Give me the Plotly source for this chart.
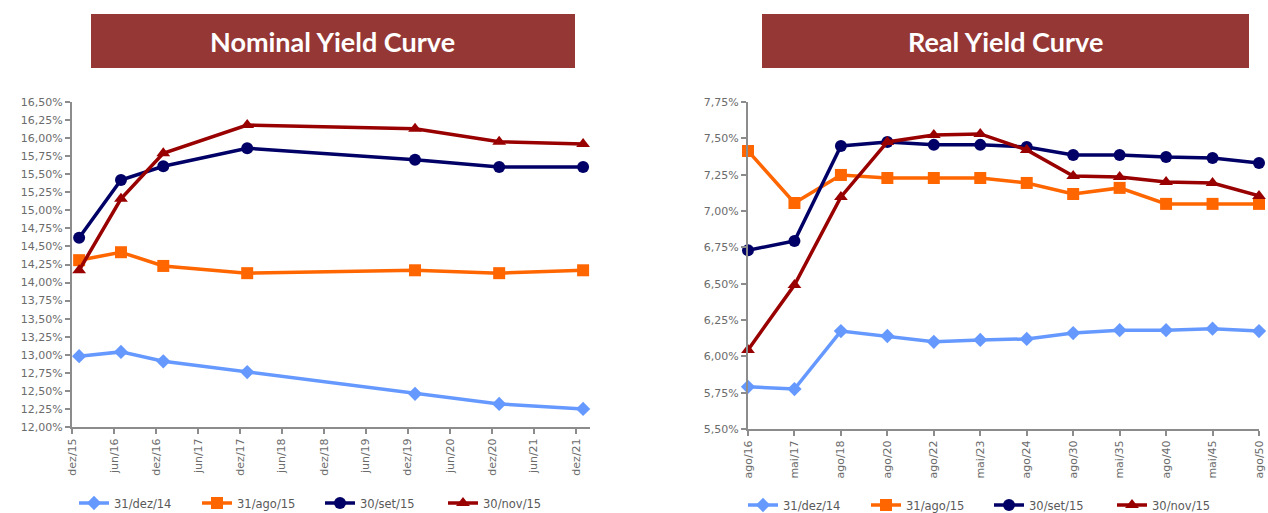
import plotly.graph_objects as go

# ---------------- data ----------------
SERIES = ["31/dez/14", "31/ago/15", "30/set/15", "30/nov/15"]

nom_dates = ["2016-01-01", "2016-07-01", "2017-01-01", "2018-01-01",
             "2020-01-01", "2021-01-01", "2022-01-01"]
nom_dez14 = [12.98, 13.04, 12.91, 12.76, 12.46, 12.32, 12.25]
nom_ago15 = [14.31, 14.42, 14.23, 14.13, 14.17, 14.13, 14.17]
nom_set15 = [14.62, 15.42, 15.61, 15.86, 15.70, 15.60, 15.60]
nom_nov15 = [14.17, 15.16, 15.79, 16.18, 16.13, 15.95, 15.92]

nom_tick_dates = ["2015-12-01", "2016-06-01", "2016-12-01", "2017-06-01",
                  "2017-12-01", "2018-06-01", "2018-12-01", "2019-06-01",
                  "2019-12-01", "2020-06-01", "2020-12-01", "2021-06-01",
                  "2021-12-01"]
nom_tick_labels = ["dez/15", "jun/16", "dez/16", "jun/17", "dez/17", "jun/18",
                   "dez/18", "jun/19", "dez/19", "jun/20", "dez/20", "jun/21",
                   "dez/21"]

real_cats = ["ago/16", "mai/17", "ago/18", "ago/20", "ago/22", "mai/23",
             "ago/24", "ago/30", "mai/35", "ago/40", "mai/45", "ago/50"]
real_dez14 = [5.79, 5.775, 6.174, 6.14, 6.10, 6.113, 6.12, 6.16, 6.18, 6.18, 6.19, 6.174]
real_ago15 = [7.413, 7.055, 7.248, 7.227, 7.227, 7.227, 7.193, 7.117, 7.159, 7.049, 7.049, 7.049]
real_set15 = [6.73, 6.794, 7.448, 7.475, 7.455, 7.455, 7.441, 7.386, 7.386, 7.372, 7.365, 7.33]
real_nov15 = [6.044, 6.491, 7.097, 7.475, 7.523, 7.53, 7.42, 7.241, 7.234, 7.20, 7.193, 7.104]

# ---------------- styles ----------------
COLORS = ["#6699FF", "#FF6600", "#000066", "#990000"]
SYMBOLS = ["diamond", "square", "circle", "triangle-up"]
MSIZES = [11, 12, 12, 12]
W, H = 1268, 513
TICKFONT = dict(family="DejaVu Sans", size=11, color="#6b6b6b")
LEGFONT = dict(family="DejaVu Sans", size=11.5, color="#595959")
AXCOL = "#8c8c8c"

fig = go.Figure()

nom_vals = [nom_dez14, nom_ago15, nom_set15, nom_nov15]
real_vals = [real_dez14, real_ago15, real_set15, real_nov15]

for i, name in enumerate(SERIES):
    fig.add_trace(go.Scatter(
        x=nom_dates, y=nom_vals[i], name=name, mode="lines+markers",
        line=dict(color=COLORS[i], width=3.5),
        marker=dict(symbol=SYMBOLS[i], size=MSIZES[i], color=COLORS[i]),
        xaxis="x", yaxis="y", legend="legend", cliponaxis=False))
for i, name in enumerate(SERIES):
    fig.add_trace(go.Scatter(
        x=real_cats, y=real_vals[i], name=name, mode="lines+markers",
        line=dict(color=COLORS[i], width=3.5),
        marker=dict(symbol=SYMBOLS[i], size=MSIZES[i], color=COLORS[i]),
        xaxis="x2", yaxis="y2", legend="legend2", cliponaxis=False))

def px(x):
    return x / W

def py(y):
    return (H - y) / H

axis_common = dict(showgrid=False, zeroline=False, showline=True, linecolor=AXCOL,
                   linewidth=2, ticks="outside", ticklen=5, tickcolor=AXCOL,
                   tickwidth=1.5, tickfont=TICKFONT)

fig.update_layout(
    width=W, height=H, margin=dict(l=0, r=0, t=0, b=0, autoexpand=False),
    paper_bgcolor="white", plot_bgcolor="white",
    separators=",.",
    xaxis=dict(domain=[px(72), px(590)], anchor="y", type="date",
               range=["2015-12-01", "2022-01-31"],
               tickmode="array", tickvals=nom_tick_dates, ticktext=nom_tick_labels,
               tickangle=-90, **axis_common),
    yaxis=dict(domain=[py(427), py(102)], anchor="x", range=[12, 16.5],
               dtick=0.25, tick0=12, tickformat=".2f", ticksuffix="%",
               **axis_common),
    xaxis2=dict(domain=[px(748), px(1259)], anchor="y2", type="category",
                range=[0, 11], tickangle=-90, **axis_common),
    yaxis2=dict(domain=[py(429), py(102)], anchor="x2", range=[5.5, 7.75],
                dtick=0.25, tick0=5.5, tickformat=".2f", ticksuffix="%",
                **axis_common),
    legend=dict(orientation="h", x=px(74), y=py(503), xanchor="left", yanchor="middle",
                font=LEGFONT, entrywidth=78, entrywidthmode="pixels",
                bgcolor="rgba(0,0,0,0)"),
    legend2=dict(orientation="h", x=px(743), y=py(505), xanchor="left", yanchor="middle",
                 font=LEGFONT, entrywidth=78, entrywidthmode="pixels",
                 bgcolor="rgba(0,0,0,0)"),
    showlegend=True,
)

# title boxes
for (x0, x1, text) in [(91, 575, "Nominal Yield Curve"), (762, 1249, "Real Yield Curve")]:
    fig.add_shape(type="rect", xref="paper", yref="paper",
                  x0=px(x0), x1=px(x1), y0=py(68), y1=py(14),
                  fillcolor="#953735", line=dict(width=0), layer="above")
    fig.add_annotation(xref="paper", yref="paper", x=px((x0 + x1) / 2), y=py(41),
                       text="<b>" + text + "</b>", showarrow=False,
                       xanchor="center", yanchor="middle",
                       font=dict(family="Lato", size=27, color="white"))

fig.write_html("out.html")
